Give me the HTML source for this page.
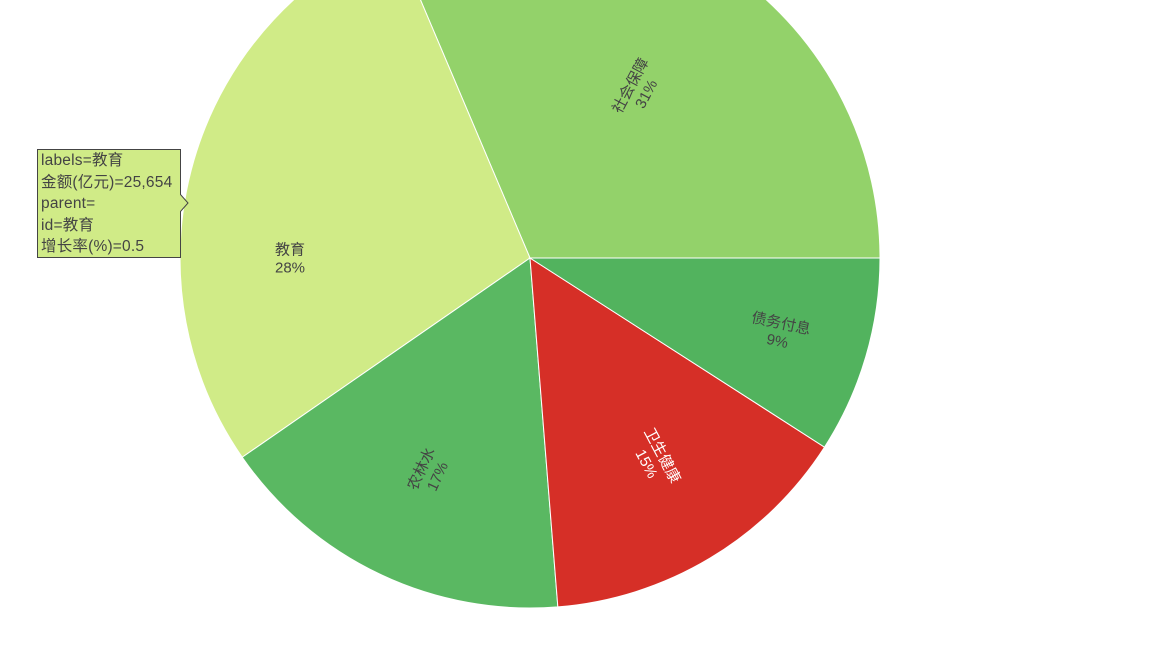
<!DOCTYPE html>
<html><head><meta charset="utf-8"><style>
html,body{margin:0;padding:0;background:#fff;width:1152px;height:648px;overflow:hidden;font-family:"Liberation Sans","Noto Sans CJK SC",sans-serif;}
#tip{position:absolute;left:37px;top:149px;width:144px;height:109px;background:#d0eb87;border:1px solid #444;box-sizing:border-box;padding:0 3px;font-size:15.5px;line-height:21.6px;color:#444;white-space:nowrap;letter-spacing:0.2px;}
</style></head><body>
<svg id="chart" width="1152" height="648" style="position:absolute;left:0;top:0"></svg>
<div id="tip">labels=教育<br>金额(亿元)=25,654<br>parent=<br>id=教育<br>增长率(%)=0.5</div>
<svg width="12" height="20" style="position:absolute;left:180px;top:193px"><path d="M0,1 L8,10 L0,19" fill="#d0eb87" stroke="#444" stroke-width="1"/></svg>
<script>
const labels=["社会保障","教育","农林水","卫生健康","债务付息"];
const values=[28500,25654,15100,13300,8250];
const colors=["#93d26a","#d0eb87","#5ab862","#d62f27","#52b35e"];
const textColors=["#444","#444","#444","#fff","#444"];
const labelR=[200,240,237,237,260];
const labelAngleShift=[-1,-16,0,-1,0];
const labelRot=[-62,0,-65,62,12];
const cx=530,cy=258,R=350;
const svg=document.getElementById('chart');
const NS="http://www.w3.org/2000/svg";
const total=values.reduce((a,b)=>a+b,0);
let end=90;
function pt(a,r){const t=a*Math.PI/180;return [cx+r*Math.sin(t),cy-r*Math.cos(t)];}
values.forEach((v,i)=>{
  const span=v/total*360;
  const a1=end-span,a2=end;
  end=a1;
  const p1=pt(a1,R),p2=pt(a2,R);
  const large=span>180?1:0;
  const path=document.createElementNS(NS,'path');
  path.setAttribute('d',`M${cx},${cy} L${p1[0]},${p1[1]} A${R},${R} 0 ${large} 1 ${p2[0]},${p2[1]} Z`);
  path.setAttribute('fill',colors[i]);
  path.setAttribute('stroke','#fff');
  path.setAttribute('stroke-width','1');
  
  
  svg.appendChild(path);
  const mid=(a1+a2)/2+labelAngleShift[i];
  const c=pt(mid,labelR[i]);
  const g=document.createElementNS(NS,'g');
  g.setAttribute('transform',`translate(${c[0]},${c[1]}) rotate(${labelRot[i]})`);
  
  
  const t1=document.createElementNS(NS,'text');
  t1.setAttribute('text-anchor','middle');t1.setAttribute('y','-3');
  t1.setAttribute('font-size','15');t1.setAttribute('fill',textColors[i]);
  t1.textContent=labels[i];
  const t2=document.createElementNS(NS,'text');
  t2.setAttribute('text-anchor','middle');t2.setAttribute('y','15');
  t2.setAttribute('font-size','15');t2.setAttribute('fill',textColors[i]);
  t2.textContent=Math.round(v/total*100)+'%';
  g.appendChild(t1);g.appendChild(t2);svg.appendChild(g);
});
</script>
</body></html>
